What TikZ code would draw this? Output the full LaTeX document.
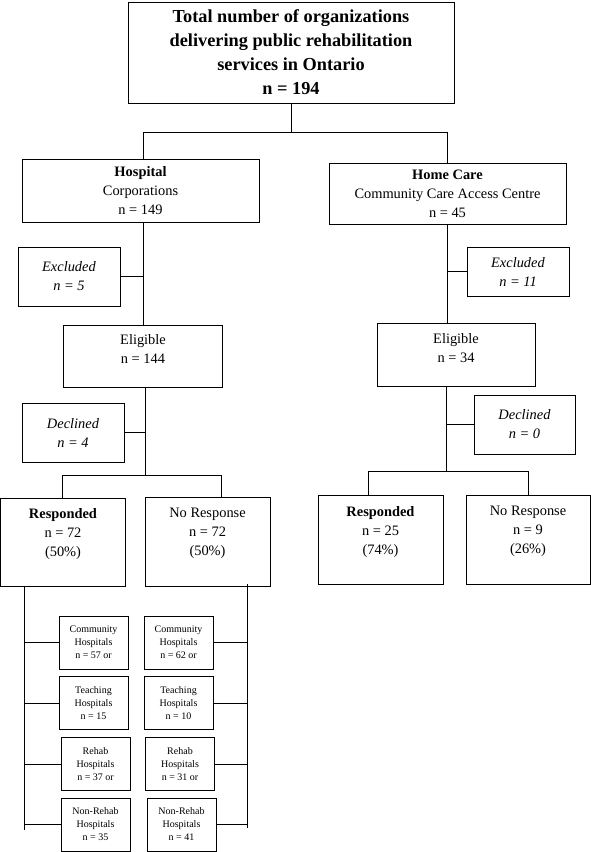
\documentclass[tikz,border=0pt]{standalone}
\usepackage{fontspec}
\setmainfont{Liberation Serif}

\begin{document}
\begin{tikzpicture}[x=1pt,y=-1pt,
  box/.style={draw, line width=0.8pt, align=center, inner sep=0pt,
    font=\fontsize{14.4}{19}\selectfont},
  smallbox/.style={box, minimum width=69, minimum height=53,
    font=\fontsize{10}{13}\selectfont},
  link/.style={draw, line width=0.8pt}]

\useasboundingbox (0,0) rectangle (591,852);

% top and the two branches
\node[box, minimum width=326, minimum height=101, font=\fontsize{18.3}{24}\selectfont\bfseries]
  (top) at (291,52.5) {Total number of organizations\\delivering public rehabilitation\\services in Ontario\\n = 194};
\node[box, minimum width=237, minimum height=63] (hosp) at (140.5,190.5) {\textbf{Hospital}\\Corporations\\n = 149};
\node[box, minimum width=237, minimum height=61] (home) at (447.5,193.5) {\textbf{Home Care}\\Community Care Access Centre\\n = 45};

% hospital side
\node[box, minimum width=102, minimum height=59] (exclL) at (69,276.5) {\textit{Excluded}\\\textit{n = 5}};
\node[box, minimum width=159, minimum height=62] (eligL) at (143,356) {Eligible\\n = 144\\[-5pt]~};
\node[box, minimum width=102, minimum height=59] (declL) at (73,432.5) {\textit{Declined}\\\textit{n = 4}};
\node[box, minimum width=125, minimum height=88] (respL) at (63,542) {\textbf{Responded}\\n = 72\\(50\%)\\~};
\node[box, minimum width=125, minimum height=89] (noresL) at (207.5,541.5) {No Response\\n = 72\\(50\%)\\~};

% home care side
\node[box, minimum width=102, minimum height=49] (exclR) at (518,271.5) {\textit{Excluded}\\\textit{n = 11}};
\node[box, minimum width=158, minimum height=63] (eligR) at (456,354.5) {Eligible\\n = 34\\[-5pt]~};
\node[box, minimum width=101, minimum height=59] (declR) at (524.5,424.5) {\textit{Declined}\\\textit{n = 0}};
\node[box, minimum width=125, minimum height=89] (respR) at (380.5,539.5) {\textbf{Responded}\\n = 25\\(74\%)\\~};
\node[box, minimum width=124, minimum height=89] (noresR) at (528,539.5) {No Response\\n = 9\\(26\%)\\~};

% hospital types
\node[smallbox] (comL) at (93.5,642.5) {Community\\Hospitals\\n = 57 or};
\node[smallbox] (teachL) at (93.5,703) {Teaching\\Hospitals\\n = 15};
\node[smallbox] (rehabL) at (95.5,764) {Rehab\\Hospitals\\n = 37 or};
\node[smallbox] (nonL) at (95.5,824.5) {Non-Rehab\\Hospitals\\n = 35};
\node[smallbox] (comR) at (178.5,642.5) {Community\\Hospitals\\n = 62 or};
\node[smallbox] (teachR) at (178.5,703) {Teaching\\Hospitals\\n = 10};
\node[smallbox] (rehabR) at (180,764) {Rehab\\Hospitals\\n = 31 or};
\node[smallbox] (nonR) at (181.5,824.5) {Non-Rehab\\Hospitals\\n = 41};

% junctions
\coordinate (j0) at (291,132);
\coordinate (jL) at (145,475);
\coordinate (bL1) at (62,475);
\coordinate (bL2) at (221,475);
\coordinate (jR) at (446,471);
\coordinate (bR1) at (368,471);
\coordinate (bR2) at (528,471);
\coordinate (vL) at (24,830);
\coordinate (vR) at (247,828);

% connectors
\draw[link] (top.south) -- (j0);
\draw[link] (j0) -| (eligL.north |- hosp.north);
\draw[link] (j0) -| (home.north);

\draw[link] (eligL.north |- hosp.south) -- (eligL.north);
\draw[link] (exclL.east) -- (exclL.east -| eligL.north);
\draw[link] (jL |- eligL.south) -- (jL);
\draw[link] (declL.east) -- (declL.east -| jL);
\draw[link] (bL1 |- respL.north) -- (bL1) -- (bL2) -- (bL2 |- noresL.north);

\draw[link] (home.south) -- (home.south |- eligR.north);
\draw[link] (exclR.west) -- (exclR.west -| home.south);
\draw[link] (jR |- eligR.south) -- (jR);
\draw[link] (declR.west) -- (declR.west -| jR);
\draw[link] (bR1 |- respR.north) -- (bR1) -- (bR2) -- (bR2 |- noresR.north);

\draw[link] (vL |- respL.south) -- (vL);
\draw[link] (comL.west) -- (comL.west -| vL);
\draw[link] (teachL.west) -- (teachL.west -| vL);
\draw[link] (rehabL.west) -- (rehabL.west -| vL);
\draw[link] (nonL.west) -- (nonL.west -| vL);

\draw[link] (vR |- noresR.south) -- (vR);
\draw[link] (comR.east) -- (comR.east -| vR);
\draw[link] (teachR.east) -- (teachR.east -| vR);
\draw[link] (rehabR.east) -- (rehabR.east -| vR);
\draw[link] (nonR.east) -- (nonR.east -| vR);

\end{tikzpicture}
\end{document}
